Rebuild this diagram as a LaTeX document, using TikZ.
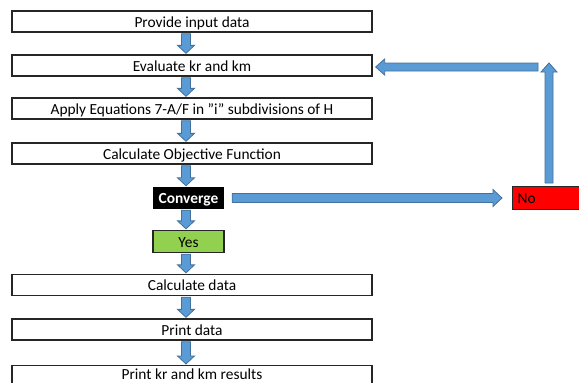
\documentclass[tikz,border=0pt]{standalone}
\usepackage{fontspec}
\setmainfont{Carlito}
\usetikzlibrary{calc}
\definecolor{arrfill}{HTML}{5B9BD5}
\definecolor{arrline}{HTML}{41719C}
\definecolor{yesgreen}{HTML}{92D050}
\tikzset{
  txt/.style={font=\fontsize{15.4}{17}\selectfont, text height=12pt, text depth=1pt},
  stepbox/.style={txt, draw=black!85, line width=1.3pt, minimum width=360pt, minimum height=21pt, inner sep=0pt},
  blk/.style={fill=arrfill, draw=arrline, line width=0.8pt, line join=miter},
}
\newcommand\blockdown[2]{%
 \path[blk] let \p1=(axis |- #1.south), \p2=(axis |- #2.north) in
 (\x1-4.5pt,\y1-1pt) -- (\x1+4.5pt,\y1-1pt) -- (\x1+4.5pt,\y2+9pt) -- (\x1+8.5pt,\y2+9pt) -- (\x1,\y2+1pt) -- (\x1-8.5pt,\y2+9pt) -- (\x1-4.5pt,\y2+9pt) -- cycle;}
\begin{document}
\begin{tikzpicture}[x=1pt,y=-1pt]
\clip (0,0) rectangle (579,383);
\fill[white] (0,0) rectangle (579,383);
\coordinate (axis) at (186,0);
\node[stepbox] (p1) at (192,21.5) {Provide input data};
\node[stepbox] (p2) at (192,65.5) {Evaluate kr and km};
\node[stepbox] (p3) at (192,108.5) {Apply Equations 7-A/F in \symbol{34}i\symbol{34} subdivisions of H};
\node[stepbox] (p4) at (192,153.5) {Calculate Objective Function};
\node[txt, fill=black, text=white, minimum width=71pt, minimum height=22pt, inner sep=0pt, font={\fontsize{15.4}{17}\selectfont\bfseries}] (cv) at (188.5,198) {Converge};
\node[txt, fill=yesgreen, draw=black!85, line width=1.3pt, minimum width=71pt, minimum height=22pt, inner sep=0pt] (yes) at (188.5,241.5) {Yes};
\node[stepbox] (p5) at (192,285) {Calculate data};
\node[stepbox] (p6) at (192,329.5) {Print data};
\node[stepbox, anchor=north, minimum height=25pt] (p7) at (192,365) {};
\node[txt] (p7t) at (192,374) {Print kr and km results};
\node[txt, fill=red, draw=black!85, line width=1.3pt, minimum width=80pt, minimum height=23pt, inner sep=2pt, anchor=north west, text width=70pt, align=left] (no) at (512,186) {No};
\blockdown{p1}{p2}
\blockdown{p2}{p3}
\blockdown{p3}{p4}
\blockdown{p4}{cv}
\blockdown{cv}{yes}
\blockdown{yes}{p5}
\blockdown{p5}{p6}
\blockdown{p6}{p7}
% Converge -> No
\path[blk] let \p1=(cv.east), \p2=(no.west) in
 (\x1+8pt,\y1+4.5pt) -- (\x2-19pt,\y1+4.5pt) -- (\x2-19pt,\y1+8.5pt) -- (\x2-10pt,\y1) -- (\x2-19pt,\y1-8.5pt) -- (\x2-19pt,\y1-4.5pt) -- (\x1+8pt,\y1-4.5pt) -- cycle;
% No -> up
\coordinate (upx) at (549,0);
\coordinate (upend) at (549,63);
\path[blk] let \p1=(upx |- no.north), \p2=(upend) in
 (\x1-4pt,\y1+3pt) -- (\x1+4pt,\y1+3pt) -- (\x1+4pt,\y2-9pt) -- (\x1+8pt,\y2-9pt) -- (\x1,\y2) -- (\x1-8pt,\y2-9pt) -- (\x1-4pt,\y2-9pt) -- cycle;
% left arrow to Evaluate
\coordinate (lstart) at (538,67);
\path[blk] let \p1=(lstart), \p2=(p2.east) in
 (\x1,\y1+4pt) -- (\x2+12pt,\y1+4pt) -- (\x2+12pt,\y1+8pt) -- (\x2+3pt,\y1) -- (\x2+12pt,\y1-8pt) -- (\x2+12pt,\y1-4pt) -- (\x1,\y1-4pt) -- cycle;
\end{tikzpicture}
\end{document}
